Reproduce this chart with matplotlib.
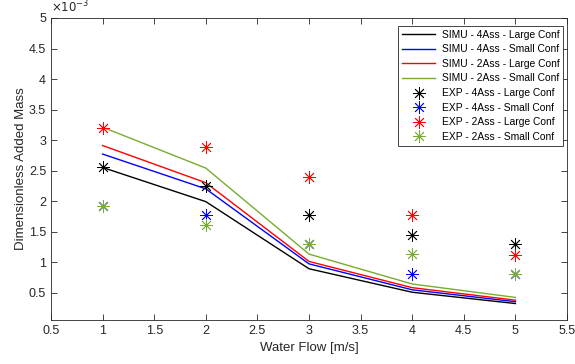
import matplotlib.pyplot as plt
import numpy as np
from matplotlib.ticker import FuncFormatter

plt.rcParams['font.family'] = ['Liberation Sans', 'DejaVu Sans']

# Data
flow = [1, 2, 3, 4, 5]
simu_4ass_large = np.array([2.55, 1.99, 0.89, 0.505, 0.32]) * 1e-3
simu_4ass_small = np.array([2.77, 2.20, 0.97, 0.545, 0.35]) * 1e-3
simu_2ass_large = np.array([2.91, 2.30, 1.01, 0.58, 0.375]) * 1e-3
simu_2ass_small = np.array([3.21, 2.54, 1.13, 0.64, 0.42]) * 1e-3

exp_4ass_large = np.array([2.56, 2.25, 1.77, 1.44, 1.30]) * 1e-3
exp_4ass_small = np.array([1.92, 1.77, 1.29, 0.81, 0.81]) * 1e-3
exp_2ass_large = np.array([3.19, 2.89, 2.40, 1.77, 1.12]) * 1e-3
exp_2ass_small = np.array([1.92, 1.60, 1.29, 1.13, 0.81]) * 1e-3

green = '#77AC30'
colors = ['k', 'b', 'r', green]
grey = '#262626'
star = (8, 2, 0)

fig = plt.figure(figsize=(5.75, 3.64), dpi=100)
ax = fig.add_axes([51/575, 44/364, 516/575, 302/364])

simu = [simu_4ass_large, simu_4ass_small, simu_2ass_large, simu_2ass_small]
simu_names = ['SIMU - 4Ass - Large Conf', 'SIMU - 4Ass - Small Conf',
              'SIMU - 2Ass - Large Conf', 'SIMU - 2Ass - Small Conf']
for y, c, n in zip(simu, colors, simu_names):
    ax.plot(flow, y, color=c, lw=1, label=n)

exp = [exp_4ass_large, exp_4ass_small, exp_2ass_large, exp_2ass_small]
exp_names = ['EXP - 4Ass - Large Conf', 'EXP - 4Ass - Small Conf',
             'EXP - 2Ass - Large Conf', 'EXP - 2Ass - Small Conf']
for y, c, n in zip(exp, colors, exp_names):
    ax.plot(flow, y, ls='none', marker=star, ms=9, mew=0.6, color=c, label=n)

ax.set_xlim(0.5, 5.5)
ax.set_ylim(0.05e-3, 5e-3)
ax.set_xticks(np.arange(0.5, 5.51, 0.5))
ax.set_yticks(np.arange(0.5e-3, 5.01e-3, 0.5e-3))
ax.xaxis.set_major_formatter(FuncFormatter(lambda v, p: '%g' % round(v, 3)))
ax.yaxis.set_major_formatter(FuncFormatter(lambda v, p: '%g' % round(v * 1e3, 3)))
ax.text(0.0, 1.008, r'$\times 10^{-3}$', transform=ax.transAxes,
        fontsize=8.5, color=grey, ha='left', va='bottom')

ax.tick_params(direction='in', top=True, right=True, labelsize=9,
               colors=grey, length=4, width=0.6)
for s in ax.spines.values():
    s.set_color(grey)
    s.set_linewidth(0.6)

ax.set_xlabel('Water Flow [m/s]', fontsize=9.5, color=grey)
ax.set_ylabel('Dimensionless Added Mass', fontsize=9.5, color=grey, labelpad=1)

leg = ax.legend(loc='upper right', bbox_to_anchor=(1 - 4/516, 1 - 8/302),
                borderaxespad=0, fontsize=7.4, fancybox=False, framealpha=1,
                edgecolor=grey, borderpad=0.35, labelspacing=0.45,
                handlelength=3.3, handletextpad=0.6)
leg.get_frame().set_linewidth(0.6)

fig.savefig('out.png', dpi=100)
